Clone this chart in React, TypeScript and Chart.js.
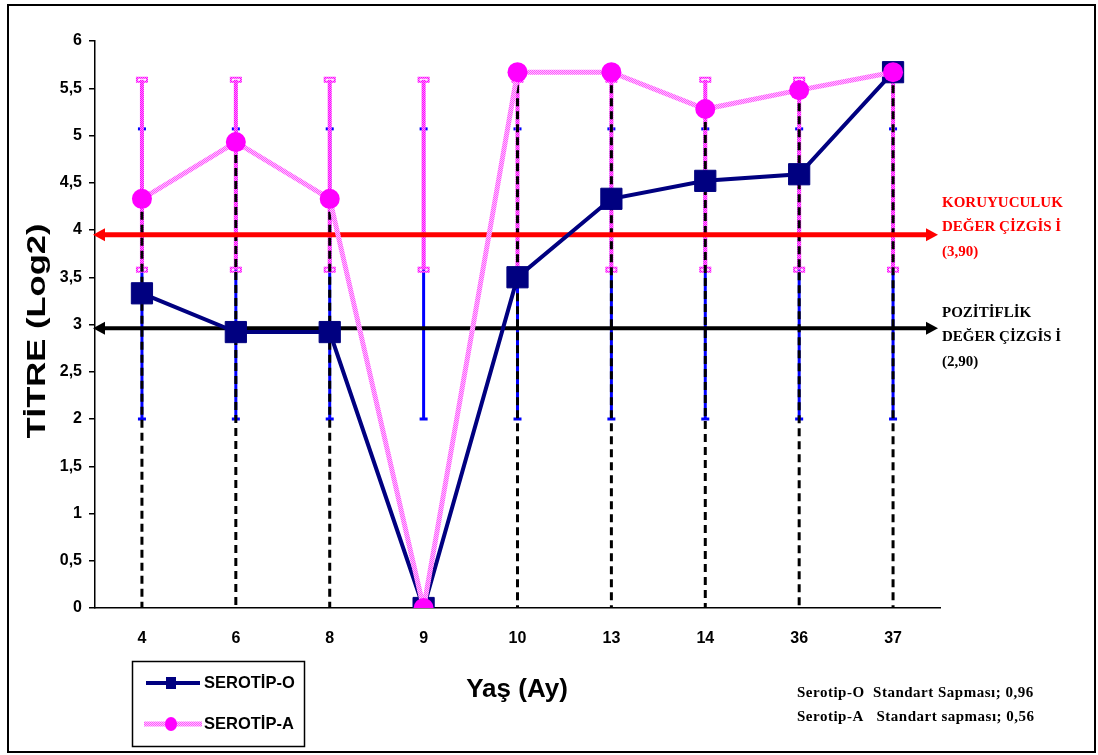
import React, { useEffect, useRef } from 'react';
import { Chart, registerables } from 'chart.js';

Chart.register(...registerables);

// ---- data ----
const categories = ['4', '6', '8', '9', '10', '13', '14', '36', '37'];
const serotipO = [3.33, 2.92, 2.92, 0, 3.5, 4.33, 4.52, 4.59, 5.67];
const serotipA = [4.33, 4.93, 4.33, 0, 5.67, 5.67, 5.28, 5.48, 5.67];
const errorBarO = [2.0, 5.07]; // low, high
const errorBarA = [3.58, 5.59]; // low, high
const protectiveValue = 3.95;
const positiveValue = 2.96;
const protectiveLabel = ['KORUYUCULUK', 'DEĞER ÇİZGİS İ', '(3,90)'];
const positiveLabel = ['POZİTİFLİK', 'DEĞER ÇİZGİS İ', '(2,90)'];
const sdNotes = ['Serotip-O  Standart Sapması; 0,96', 'Serotip-A   Standart sapması; 0,56'];
const seriesNames = ['SEROTİP-O', 'SEROTİP-A'];
const yTitle = 'TİTRE (Log2)';
const xTitle = 'Yaş (Ay)';

const SANS = '"Liberation Sans", Arial, sans-serif';
const SERIF = '"Liberation Serif", "Times New Roman", serif';
const NAVY = '#000080';

function makePattern(c1: string, c2: string): CanvasPattern | string {
  const off = document.createElement('canvas');
  off.width = 2;
  off.height = 2;
  const g = off.getContext('2d');
  if (!g) return c1;
  g.fillStyle = c1;
  g.fillRect(0, 0, 2, 2);
  g.fillStyle = c2;
  g.fillRect(0, 0, 1, 1);
  g.fillRect(1, 1, 1, 1);
  const p = g.createPattern(off, 'repeat');
  return p || c1;
}

function arrow(ctx: CanvasRenderingContext2D, x1: number, x2: number, y: number, color: string, w: number, head: number) {
  ctx.save();
  ctx.strokeStyle = color;
  ctx.fillStyle = color;
  ctx.lineWidth = w;
  ctx.beginPath();
  ctx.moveTo(x1 + head, y);
  ctx.lineTo(x2 - head, y);
  ctx.stroke();
  ctx.beginPath();
  ctx.moveTo(x1, y);
  ctx.lineTo(x1 + head + 2, y - head * 0.65);
  ctx.lineTo(x1 + head + 2, y + head * 0.65);
  ctx.closePath();
  ctx.fill();
  ctx.beginPath();
  ctx.moveTo(x2, y);
  ctx.lineTo(x2 - head - 2, y - head * 0.65);
  ctx.lineTo(x2 - head - 2, y + head * 0.65);
  ctx.closePath();
  ctx.fill();
  ctx.restore();
}

export default function App() {
  const ref = useRef<HTMLCanvasElement>(null);

  useEffect(() => {
    if (!ref.current) return;
    const lineA = makePattern('#ffc4ff', '#ff55ff');
    const barA = makePattern('#ff88ff', '#ff00ff');

    const overlay = {
      id: 'overlay',
      beforeDatasetsDraw(chart: any) {
        const ctx: CanvasRenderingContext2D = chart.ctx;
        const xs = chart.scales.x;
        const ys = chart.scales.y;
        ctx.save();
        categories.forEach((_, i) => {
          const px = xs.getPixelForValue(i);
          // blue error bar
          ctx.strokeStyle = '#0000ff';
          ctx.lineWidth = 3;
          ctx.beginPath();
          ctx.moveTo(px, ys.getPixelForValue(errorBarO[0]));
          ctx.lineTo(px, ys.getPixelForValue(errorBarO[1]));
          ctx.stroke();
          ctx.fillStyle = '#0000ff';
          [errorBarO[0], errorBarO[1]].forEach((v) => {
            const py = ys.getPixelForValue(v);
            ctx.fillRect(px - 4, py - 1.5, 8, 3);
          });
          // magenta error bar
          ctx.strokeStyle = barA as any;
          ctx.lineWidth = 4;
          ctx.beginPath();
          ctx.moveTo(px, ys.getPixelForValue(errorBarA[0]));
          ctx.lineTo(px, ys.getPixelForValue(errorBarA[1]));
          ctx.stroke();
          [errorBarA[0], errorBarA[1]].forEach((v) => {
            const py = ys.getPixelForValue(v);
            ctx.lineWidth = 2;
            ctx.strokeRect(px - 5, py - 2, 10, 4);
          });
        });
        // drop lines
        ctx.strokeStyle = '#000';
        ctx.lineWidth = 3;
        ctx.setLineDash([8, 5]);
        categories.forEach((_, i) => {
          const top = Math.max(serotipO[i], serotipA[i]);
          if (top <= 0) return;
          const px = xs.getPixelForValue(i);
          ctx.beginPath();
          ctx.moveTo(px, ys.getPixelForValue(top));
          ctx.lineTo(px, ys.getPixelForValue(0));
          ctx.stroke();
        });
        ctx.setLineDash([]);
        ctx.restore();
        // reference arrows
        const left = chart.chartArea.left - 2;
        const right = chart.chartArea.right - 2;
        arrow(ctx, left, right, ys.getPixelForValue(protectiveValue), '#ff0000', 5, 10);
        arrow(ctx, left, right, ys.getPixelForValue(positiveValue), '#000000', 4, 10);
      },
      afterDraw(chart: any) {
        const ctx: CanvasRenderingContext2D = chart.ctx;
        ctx.save();
        // outer frame
        ctx.strokeStyle = '#000';
        ctx.lineWidth = 2;
        ctx.strokeRect(8, 5, 1087, 747);
        // axis titles
        ctx.fillStyle = '#000';
        ctx.font = `bold 26px ${SANS}`;
        ctx.textAlign = 'center';
        ctx.textBaseline = 'alphabetic';
        ctx.fillText(xTitle, 517, 697);
        ctx.save();
        ctx.translate(45, 331);
        ctx.rotate(-Math.PI / 2);
        ctx.scale(1.33, 1);
        ctx.fillText(yTitle, 0, 0);
        ctx.restore();
        ctx.textBaseline = 'middle';
        // legend
        ctx.lineWidth = 1.5;
        ctx.strokeRect(132.5, 661.5, 172, 85);
        ctx.strokeStyle = NAVY;
        ctx.lineWidth = 4;
        ctx.beginPath();
        ctx.moveTo(146, 683);
        ctx.lineTo(200, 683);
        ctx.stroke();
        ctx.fillStyle = NAVY;
        ctx.fillRect(166, 677, 10, 12);
        ctx.strokeStyle = lineA as any;
        ctx.lineWidth = 5;
        ctx.beginPath();
        ctx.moveTo(144, 724);
        ctx.lineTo(202, 724);
        ctx.stroke();
        ctx.fillStyle = '#ff00ff';
        ctx.beginPath();
        ctx.ellipse(171, 724, 6, 7, 0, 0, Math.PI * 2);
        ctx.fill();
        ctx.fillStyle = '#000';
        ctx.font = `bold 16.5px ${SANS}`;
        ctx.textAlign = 'left';
        ctx.fillText(seriesNames[0], 204, 683);
        ctx.fillText(seriesNames[1], 204, 724);
        // annotations
        ctx.font = `bold 15px ${SERIF}`;
        ctx.fillStyle = '#ff0000';
        [203, 227, 252].forEach((y, k) => ctx.fillText(protectiveLabel[k], 942, y));
        ctx.fillStyle = '#000';
        [313, 337, 362].forEach((y, k) => ctx.fillText(positiveLabel[k], 942, y));
        // sd notes
        ctx.font = `bold 15px ${SERIF}`;
        (ctx as any).letterSpacing = '0.5px';
        ctx.fillText(sdNotes[0], 797, 693);
        ctx.fillText(sdNotes[1], 797, 717);
        (ctx as any).letterSpacing = '0px';
        ctx.restore();
      },
    };

    const chart = new Chart(ref.current, {
      type: 'line',
      data: {
        labels: categories,
        datasets: [
          {
            label: seriesNames[0],
            data: serotipO,
            borderColor: NAVY,
            backgroundColor: NAVY,
            borderWidth: 4,
            pointStyle: 'rect',
            pointRadius: 15,
            pointBorderWidth: 1,
            pointBorderColor: NAVY,
            pointBackgroundColor: NAVY,
            order: 2,
          },
          {
            label: seriesNames[1],
            data: serotipA,
            borderColor: lineA as any,
            backgroundColor: '#ff00ff',
            borderWidth: 5,
            pointStyle: 'circle',
            pointRadius: 10,
            pointBorderWidth: 0,
            pointBorderColor: '#ff00ff',
            pointBackgroundColor: '#ff00ff',
            order: 1,
          },
        ],
      },
      options: {
        responsive: false,
        animation: false,
        layout: { padding: { left: 35, right: 158, top: 41, bottom: 107 } },
        plugins: { legend: { display: false }, tooltip: { enabled: false } },
        scales: {
          x: {
            offset: true,
            grid: { display: false, drawTicks: false },
            border: { display: true, color: '#000', width: 1.5 },
            ticks: {
              color: '#000',
              font: { family: SANS, size: 16, weight: 'bold' },
              padding: 21,
              maxRotation: 0,
            },
            afterFit: (s: any) => {
              s.height = 40;
            },
          },
          y: {
            min: 0,
            max: 6,
            grid: { drawOnChartArea: false, drawTicks: true, tickLength: 6, color: '#000', lineWidth: 1.5 },
            border: { display: true, color: '#000', width: 1.5 },
            ticks: {
              stepSize: 0.5,
              color: '#000',
              padding: 7,
              font: { family: SANS, size: 16, weight: 'bold' },
              callback: (v: any) => String(v).replace('.', ','),
            },
            afterFit: (s: any) => {
              s.width = 60;
            },
          },
        },
      },
      plugins: [overlay],
    });
    return () => chart.destroy();
  }, []);

  return (
    <div style={{ position: 'fixed', left: 0, top: 0, width: 1098, height: 755, background: '#fff' }}>
      <canvas ref={ref} width={1098} height={755} style={{ width: 1098, height: 755, display: 'block' }} />
    </div>
  );
}
